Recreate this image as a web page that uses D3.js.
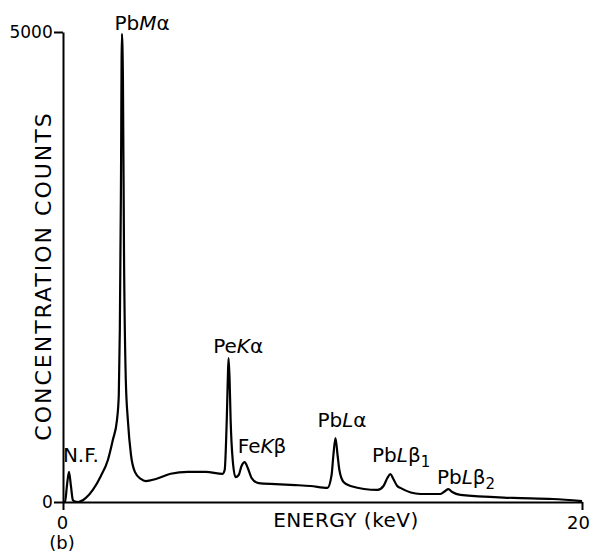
<!DOCTYPE html>
<meta charset="utf-8">
<script src="https://d3js.org/d3.v7.min.js"></script>
<style>
  body { margin: 0; background: #fff; }
  text { font-family: "DejaVu Sans", sans-serif; fill: #000; }
</style>
<svg id="my_dataviz" width="592" height="553"></svg>
<script>

  // spectrum: energy (keV) and counts
  var energy = [0, 0.08, 0.15, 0.23, 0.31, 0.38, 0.46, 0.58, 0.88, 1.15, 1.46, 1.73, 1.92, 2.08, 2.15, 2.19, 2.23, 2.27,
    2.31, 2.35, 2.42, 2.50, 2.62, 2.77, 3.00, 3.19, 3.58, 4.15, 4.81, 5.50, 6.15, 6.23, 6.31, 6.35, 6.38, 6.42, 6.46,
    6.54, 6.65, 6.77, 6.88, 7.00, 7.12, 7.27, 7.54, 8.19, 8.96, 9.54, 10.19, 10.35, 10.42, 10.50, 10.58, 10.65, 10.81,
    11.08, 12.12, 12.35, 12.50, 12.62, 12.73, 12.88, 13.00, 13.77, 14.54, 14.73, 14.85, 15.00, 15.31, 17.35, 18.88, 20.0]
  var counts = [0, 0, 170, 320, 160, 20, 5, 0, 43, 128, 277, 447, 660, 872, 1138, 1830, 3230, 4980,
    4490, 2680, 1300, 870, 500, 320, 245, 223, 245, 300, 320, 320, 300, 340, 870, 1300, 1530, 1300, 870,
    445, 265, 287, 383, 425, 362, 255, 200, 190, 180, 170, 150, 287, 500, 680, 500, 340, 213,
    170, 128, 170, 255, 298, 245, 170, 150, 85, 85, 117, 138, 106, 75, 43, 32, 10]

  // axis ticks
  var xTicks = [0, 20]
  var yTicks = [0, 5000]

  // peak labels: text parts, anchor energy and count
  var peakNames = [
    [["Pb"], ["M", "i"], ["α"]],
    [["Pe"], ["K", "i"], ["α"]],
    [["Fe"], ["K", "i"], ["β"]],
    [["Pb"], ["L", "i"], ["α"]],
    [["Pb"], ["L", "i"], ["β"], ["1", "s"]],
    [["Pb"], ["L", "i"], ["β"], ["2", "s"]],
    [["N.F."]]
  ]
  var peakEnergy = [3.05, 6.75, 7.67, 10.75, 13.03, 15.53, 0.69]
  var peakCount = [5020, 1590, 520, 795, 425, 190, 425]

  var svg = d3.select("svg")

  var x = d3.scaleLinear().domain([0, 20]).range([63, 582])
  var y = d3.scaleLinear().domain([0, 5000]).range([502, 32])

  // axes
  var xAxis = svg.append("g")
      .attr("transform", "translate(0," + y(0) + ")")
      .call(d3.axisBottom(x).tickValues(xTicks).tickSize(8).tickSizeOuter(0).tickFormat(d3.format("d")))
  var yAxis = svg.append("g")
      .attr("transform", "translate(" + x(0) + ",0)")
      .call(d3.axisLeft(y).tickValues(yTicks).tickSize(9).tickSizeOuter(0).tickFormat(d3.format("d")))

  svg.selectAll(".domain, .tick line").attr("stroke", "#000").attr("stroke-width", 2)
  xAxis.selectAll("text").attr("font-size", 18).attr("dy", "0.9em").style("font-family", "DejaVu Sans")
    .attr("dx", function(d){ return d == 20 ? -4 : -1 })
  yAxis.selectAll("text").attr("font-size", 17).attr("dx", "0.1em").style("font-family", "DejaVu Sans")

  // spectrum line
  var line = d3.line()
      .x(function(d, i){ return x(energy[i]) })
      .y(function(d, i){ return y(counts[i]) })
      .curve(d3.curveMonotoneX)

  svg.append("path")
    .attr("d", line(energy))
    .style("fill", "none")
    .style("stroke", "#000")
    .style("stroke-width", 2.2)
    .style("stroke-linejoin", "round")

  // peak labels
  peakNames.forEach(function(parts, k){
    var t = svg.append("text")
      .attr("x", x(peakEnergy[k]))
      .attr("y", y(peakCount[k]))
      .attr("text-anchor", "middle")
      .attr("font-size", 20)
    parts.forEach(function(p){
      var s = t.append("tspan").text(p[0])
      if (p[1] == "i") s.style("font-style", "italic")
      if (p[1] == "s") s.attr("font-size", 15).attr("dy", 5)
    })
  })

  // axis titles
  svg.append("text")
    .attr("x", 346)
    .attr("y", 527)
    .attr("text-anchor", "middle")
    .attr("font-size", 20)
    .attr("letter-spacing", 0.5)
    .text("ENERGY (keV)")

  svg.append("text")
    .attr("transform", "translate(51,276) rotate(-90)")
    .attr("text-anchor", "middle")
    .attr("font-size", 22)
    .attr("letter-spacing", 2)
    .text("CONCENTRATION COUNTS")

  svg.append("text")
    .attr("x", 62)
    .attr("y", 549)
    .attr("text-anchor", "middle")
    .attr("font-size", 18)
    .text("(b)")

</script>
